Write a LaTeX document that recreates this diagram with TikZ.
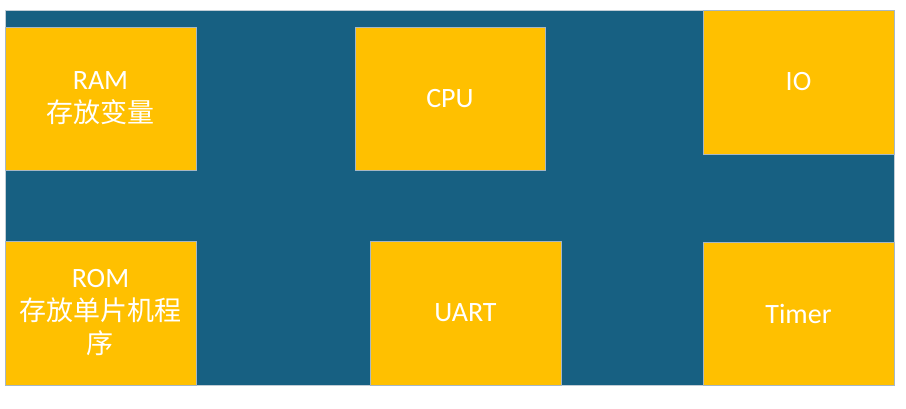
\documentclass[tikz,border=0pt]{standalone}
\usepackage{fontspec}
\setmainfont{Carlito}
\newfontfamily\cjk{Noto Sans CJK SC}
\definecolor{bgblue}{HTML}{176082}
\definecolor{boxyellow}{HTML}{FFC000}
\definecolor{edgegray}{HTML}{A7B7C4}
\newcommand{\zh}[1]{{\cjk\fontsize{27}{33}\selectfont #1}}
\tikzset{
  panel/.style={fill=bgblue, draw=edgegray!70!white, line width=0.8pt},
  box/.style={rectangle, fill=boxyellow, draw=edgegray, line width=0.8pt,
    anchor=north west, inner sep=0pt, outer sep=0pt, align=center,
    text=white, font=\fontsize{28}{33}\selectfont}
}
\begin{document}
\begin{tikzpicture}[x=1pt,y=-1pt]
\useasboundingbox[fill=white] (0,0) rectangle (906,408);
\node[panel, anchor=north west, inner sep=0pt, outer sep=0pt,
  minimum width=889pt, minimum height=375pt] (bg) at (5,10) {};
\node[box, minimum width=191pt, minimum height=143pt] (ram) at (5,27) {RAM\\\zh{存放变量}};
\node[box, minimum width=190pt, minimum height=143pt] (cpu) at (355,27) {CPU};
\node[box, minimum width=191pt, minimum height=144pt] (io) at (703,10) {IO};
\node[box, minimum width=191pt, minimum height=144pt] (rom) at (5,241) {ROM\\\zh{存放单片机程}\\\zh{序}};
\node[box, minimum width=191pt, minimum height=144pt] (uart) at (370,241) {UART};
\node[box, minimum width=191pt, minimum height=143pt] (timer) at (703,242) {Timer};
\end{tikzpicture}
\end{document}
